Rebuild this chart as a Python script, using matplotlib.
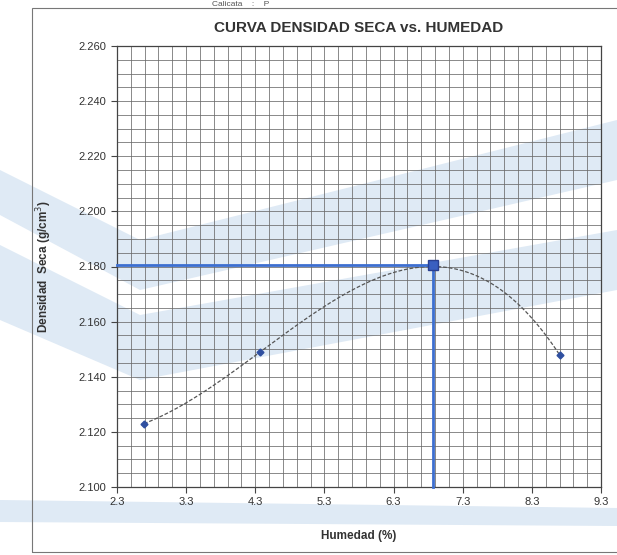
import numpy as np
import matplotlib
matplotlib.use("Agg")
import matplotlib.pyplot as plt
from matplotlib.patches import Polygon, Rectangle
from matplotlib.ticker import MultipleLocator, FixedLocator

# ensayo de compactacion
humedad = [2.69, 4.37, 6.87, 8.70]
densidad = [2.123, 2.149, 2.180, 2.148]

# punto optimo
hum_opt = 6.87
dens_opt = 2.1805

x_ticks = [2.3, 3.3, 4.3, 5.3, 6.3, 7.3, 8.3, 9.3]
y_ticks = [2.100, 2.120, 2.140, 2.160, 2.180, 2.200, 2.220, 2.240, 2.260]

plt.rcParams['font.family'] = ['Liberation Sans', 'DejaVu Sans']

fig = plt.figure(figsize=(6.17, 5.55), dpi=100)

# marca de agua celeste de fondo (pixeles de la hoja)
W, H = 617.0, 555.0
bands = [
    [(0, 170), (140, 240), (617, 120), (617, 180), (140, 290), (0, 215)],
    [(0, 245), (140, 315), (617, 230), (617, 290), (140, 380), (0, 320)],
    [(0, 500), (617, 508), (617, 526), (0, 522)],
]
for b in bands:
    pts = [(px / W, 1 - py / H) for px, py in b]
    fig.patches.append(Polygon(pts, closed=True, transform=fig.transFigure,
                               facecolor='#dfeaf5', edgecolor='none',
                               zorder=-2))

# marco de la hoja
fig.patches.append(Rectangle((32 / W, 1 - 552 / H), 1.2, (552 - 8) / H,
                             transform=fig.transFigure, fill=False,
                             edgecolor='#777777', lw=0.8, zorder=-1))
fig.text(0.39, 1.0 - 4 / H, "Calicata    :    P", ha='center', va='center',
         fontsize=6, color='#555555')

ax = fig.add_axes([117 / W, 1 - 487 / H, (601 - 117) / W, (487 - 46) / H])
ax.set_facecolor('none')

ax.set_xlim(2.3, 9.3)
ax.set_ylim(2.100, 2.260)
ax.xaxis.set_major_locator(FixedLocator(x_ticks))
ax.yaxis.set_major_locator(FixedLocator(y_ticks))
ax.xaxis.set_minor_locator(FixedLocator(np.arange(2.3, 9.31, 0.2)))
ax.yaxis.set_minor_locator(MultipleLocator(0.005))
ax.set_xticklabels([f"{v:.1f}" for v in x_ticks])
ax.set_yticklabels([f"{v:.3f}" for v in y_ticks])

ax.grid(which='both', color='#6a6a6a', lw=0.55)
ax.tick_params(which='major', length=4, width=0.8, color='#444444',
               labelsize=8, labelcolor='#333333')
ax.tick_params(which='minor', length=0)
for s in ax.spines.values():
    s.set_color('#444444')
    s.set_linewidth(0.9)

# curva de ajuste polinomica de grado 3
coef = np.polyfit(humedad, densidad, 3)
xs = np.linspace(min(humedad), max(humedad), 200)
ax.plot(xs, np.polyval(coef, xs), color='#555555', lw=0.9,
        ls=(0, (3, 1.5)), zorder=3)

ax.plot(humedad, densidad, ls='none', marker='D', ms=3.5,
        color='#2f4fa0', zorder=4)

# lineas al optimo
ax.plot([2.3, hum_opt], [dens_opt, dens_opt], color='#3d6fd0', lw=2.0,
        zorder=5, clip_on=False)
ax.plot([hum_opt, hum_opt], [2.100, dens_opt], color='#3d6fd0', lw=2.0,
        zorder=5, clip_on=False)
ax.plot([hum_opt], [dens_opt], ls='none', marker='s', ms=7,
        color='#3a5fc0', mec='#2a3f90', zorder=6)

ax.set_title("CURVA DENSIDAD SECA vs. HUMEDAD", fontsize=11,
             fontweight='bold', color='#333333', pad=10)
ax.set_xlabel("Humedad (%)", fontsize=8.5, fontweight='bold',
              color='#333333', labelpad=16)
ax.set_ylabel("Densidad  Seca (g/cm$^3$)", fontsize=8.5, fontweight='bold',
              color='#333333', labelpad=18)

fig.savefig("out.png", dpi=100)
